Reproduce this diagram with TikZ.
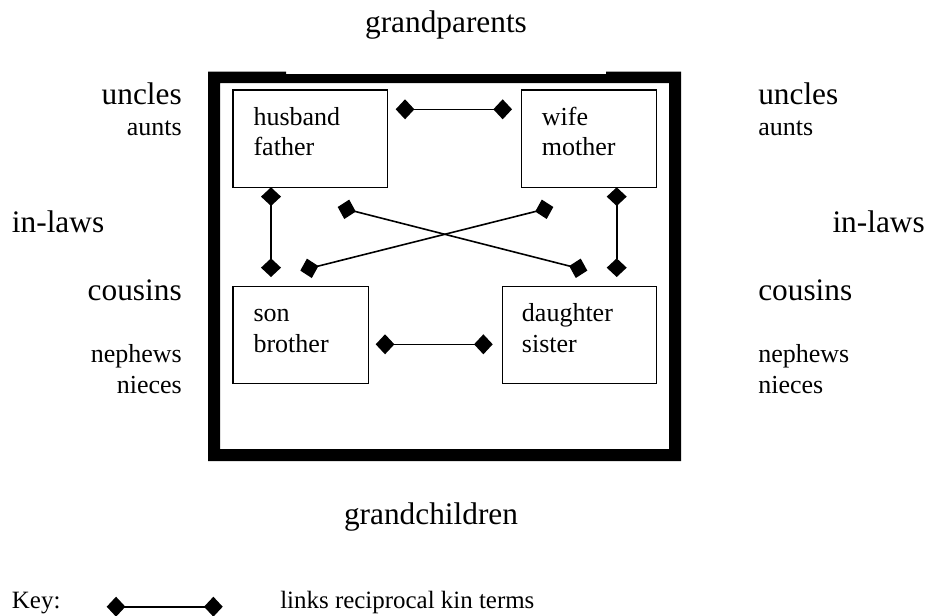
\documentclass[tikz,border=0pt]{standalone}
\usepackage{fontspec}
\setmainfont{Liberation Serif}
\usetikzlibrary{arrows.meta}
\newcommand\LgFont{\fontsize{23.5pt}{28pt}\selectfont}
\newcommand\SmFont{\fontsize{19.5pt}{23pt}\selectfont}
\newcommand\KeyFont{\fontsize{18.7pt}{22pt}\selectfont}
\begin{document}
\begin{tikzpicture}[x=0.75pt,y=-0.75pt,
  kbox/.style={draw, line width=1.05pt, minimum height=73pt, inner sep=0pt, anchor=north west},
  kline/.style={line width=1.2pt, {Diamond[length=14pt,width=15pt]}-{Diamond[length=14pt,width=15pt]}},
  lab/.style={inner sep=0pt, font=\LgFont},
  slab/.style={inner sep=0pt, font=\SmFont},
  klab/.style={inner sep=0pt, font=\KeyFont, anchor=base west},
]
\useasboundingbox (0,0) rectangle (930,615);

% outer frame
\fill[even odd rule] (208,71.7) -- (286,71.7) -- (286,74) -- (606,74) -- (606,71.7)
  -- (681,71.7) -- (681,461) -- (208,461) -- cycle (220,83) rectangle (669,449);

% boxes
\node[kbox, minimum width=115.8pt] (husband) at (232.3,89.3) {};
\node[kbox, minimum width=101.5pt] (wife) at (520.7,89.3) {};
\node[kbox, minimum width=101.5pt, minimum height=72.5pt] (son) at (232.3,286) {};
\node[kbox, minimum width=115.7pt, minimum height=72.5pt] (daughter) at (501.7,286) {};

% box texts
\node[slab, anchor=base west] (husband1) at (253.3,125.5) {husband};
\node[slab, anchor=base west] (husband2) at (253.3,155.5) {father};
\node[slab, anchor=base west] (wife1) at (541.7,125.5) {wife};
\node[slab, anchor=base west] (wife2) at (541.7,155.5) {mother};
\node[slab, anchor=base west] (son1) at (253.3,321.7) {son};
\node[slab, anchor=base west] (son2) at (253.3,352.7) {brother};
\node[slab, anchor=base west] (daughter1) at (521.7,321.7) {daughter};
\node[slab, anchor=base west] (daughter2) at (521.7,352.7) {sister};

% connector end points
\coordinate (hwA) at (395.7,109.3);  \coordinate (hwB) at (512,109.3);
\coordinate (hsA) at (271,187.3);    \coordinate (hsB) at (271,277);
\coordinate (wdA) at (616.7,187.3);  \coordinate (wdB) at (616.7,277);
\coordinate (hdA) at (337.7,207.0);  \coordinate (hdB) at (587.3,270.6);
\coordinate (swA) at (300.3,270.6);  \coordinate (swB) at (553.3,207.0);
\coordinate (sdA) at (375.7,344.3);  \coordinate (sdB) at (492.7,344.3);
\coordinate (keyA) at (106.7,606.7); \coordinate (keyB) at (222.7,606.7);

\draw[kline] (hwA) -- (hwB);
\draw[kline] (hsA) -- (hsB);
\draw[kline] (wdA) -- (wdB);
\draw[kline] (hdA) -- (hdB);
\draw[kline] (swA) -- (swB);
\draw[kline] (sdA) -- (sdB);
\draw[kline] (keyA) -- (keyB);

% outer labels
\node[lab, anchor=base] (gp) at (446,32) {grandparents};
\node[lab, anchor=base] (gc) at (431,524) {grandchildren};

\node[lab, anchor=base east] (uncL) at (182,104) {uncles};
\node[slab, anchor=base east] (auL) at (182,135) {aunts};
\node[lab, anchor=base west] (ilL) at (11.7,232.7) {in-laws};
\node[lab, anchor=base east] (coL) at (182,300.5) {cousins};
\node[slab, anchor=base east] (neL) at (182,362) {nephews};
\node[slab, anchor=base east] (niL) at (182,393) {nieces};

\node[lab, anchor=base west] (uncR) at (758,104) {uncles};
\node[slab, anchor=base west] (auR) at (758,135) {aunts};
\node[lab, anchor=base east] (ilR) at (925,232.7) {in-laws};
\node[lab, anchor=base west] (coR) at (758,300.5) {cousins};
\node[slab, anchor=base west] (neR) at (758,362) {nephews};
\node[slab, anchor=base west] (niR) at (758,393) {nieces};

% key
\node[klab] (key) at (11.7,608) {Key:};
\node[klab] (keytext) at (280,608) {links reciprocal kin terms};
\end{tikzpicture}
\end{document}
